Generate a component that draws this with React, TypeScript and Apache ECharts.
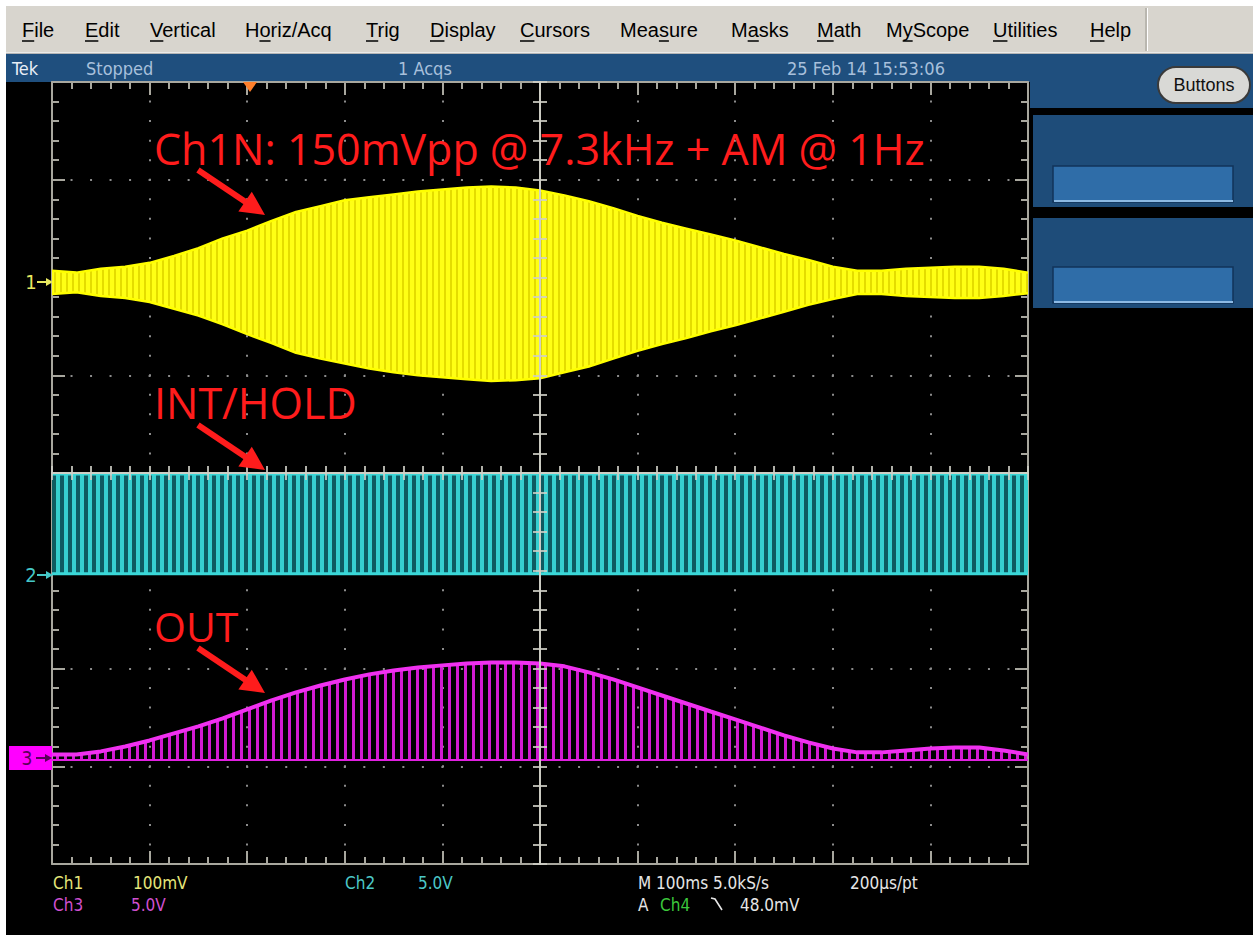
import React, { useEffect, useRef } from "react";
import * as echarts from "echarts";

// ---------- data ----------
// time relative to screen centre (ms), 100 ms/div
const timeMs = [-500, -475, -450, -425, -400, -375, -350, -325, -300, -275, -250, -225, -200, -175, -150, -125, -100, -75, -50, -25, 0, 25, 50, 75, 100, 125, 150, 175, 200, 225, 250, 275, 300, 325, 350, 375, 400, 425, 450, 475, 500];
// Ch1 (100 mV/div) envelope, mV relative to its ground marker
const ch1UpperMv = [12, 10, 14, 16, 20, 27, 35, 45, 53, 63, 72, 78, 84, 87, 90, 93, 95, 97, 98, 97, 94, 89, 83, 76, 68, 61, 55, 49, 43, 36, 29, 23, 16, 12, 12, 14, 15, 16, 16, 14, 10];
const ch1LowerMv = [-12, -10, -14, -16, -20, -27, -34, -43, -53, -62, -72, -78, -83, -88, -92, -95, -97, -99, -101, -100, -98, -92, -86, -78, -70, -63, -57, -50, -44, -37, -30, -23, -17, -12, -12, -14, -15, -16, -16, -14, -11];
// Ch2 (5 V/div) INT/HOLD logic levels
const ch2TimeMs = [-500, 500];
const ch2LowV = [0, 0];
const ch2HighV = [5.1, 5.1];
// Ch3 (5 V/div) OUT envelope top, V
const ch3TopV = [0.2, 0.2, 0.36, 0.61, 0.92, 1.28, 1.64, 2.05, 2.51, 2.97, 3.38, 3.73, 4.04, 4.3, 4.5, 4.65, 4.76, 4.86, 4.91, 4.91, 4.86, 4.71, 4.4, 4.04, 3.63, 3.22, 2.81, 2.4, 2.0, 1.59, 1.18, 0.82, 0.51, 0.31, 0.31, 0.41, 0.51, 0.56, 0.56, 0.41, 0.2];
const ch3BaseV = -0.08;
// channel positions (div) and scales
const ch1PosDiv = 1.95;
const ch2PosDiv = -1.03;
const ch3PosDiv = -2.92;
const ch1MvPerDiv = 100;
const ch2VPerDiv = 5;
const ch3VPerDiv = 5;

const menuItems = ["File", "Edit", "Vertical", "Horiz/Acq", "Trig", "Display", "Cursors", "Measure", "Masks", "Math", "MyScope", "Utilities", "Help"];
const menuUnderline = [0, 0, 0, 1, 0, 0, 0, 3, 1, 0, 1, 0, 0];
const menuX = [22, 85, 150, 245, 366, 430, 520, 620, 731, 817, 886, 993, 1090];

function stripePattern(period: number, stripe: number, bg: string | null, fg: string) {
  const c = document.createElement("canvas");
  c.width = period;
  c.height = 4;
  const g = c.getContext("2d")!;
  if (bg) {
    g.fillStyle = bg;
    g.fillRect(0, 0, period, 4);
  }
  g.fillStyle = fg;
  g.fillRect(0, 0, stripe, 4);
  return { image: c, repeat: "repeat", imageWidth: period, imageHeight: 4 } as any;
}

function arrow(x1: number, y1: number, x2: number, y2: number, color: string, w: number, hl: number, hw: number) {
  const dx = x2 - x1, dy = y2 - y1;
  const len = Math.hypot(dx, dy);
  const ux = dx / len, uy = dy / len;
  const bx = x2 - ux * hl, by = y2 - uy * hl;
  const px = -uy * hw, py = ux * hw;
  return [
    { type: "line", z: 100, shape: { x1, y1, x2: bx + ux * 2, y2: by + uy * 2 }, style: { stroke: color, lineWidth: w } },
    { type: "polygon", z: 100, shape: { points: [[x2, y2], [bx + px, by + py], [bx - px, by - py]] }, style: { fill: color } },
  ];
}

function txt(x: number, y: number, text: string, fill: string, size: number, family: string, align = "left", weight = "normal") {
  return {
    type: "text",
    z: 100,
    x,
    y,
    style: { text, fill, fontSize: size, fontFamily: family, fontWeight: weight, align, verticalAlign: "middle", textAlign: align, textVerticalAlign: "middle" },
  };
}

export default function App() {
  const ref = useRef<HTMLDivElement>(null);
  useEffect(() => {
    document.body.style.margin = "0";
    const chart = echarts.init(ref.current!, null, { renderer: "svg" });

    const gridGray = "#a8a79e";
    const dotGray = "#8c8c8c";
    const centerGray = "#cfcfc6";
    const cond = "'DejaVu Sans Condensed', 'Liberation Sans Narrow', sans-serif";
    const menuFont = "'Liberation Sans', Arial, sans-serif";
    const annFont = "'Open Sans', 'Noto Sans', sans-serif";

    const borderAxis = (pos: string, split: boolean, dash: number[]) => ({
      type: "value",
      position: pos,
      axisLine: { show: true, onZero: false, lineStyle: { color: gridGray, width: 2 } },
      axisTick: { show: true, inside: true, length: 13, lineStyle: { color: gridGray, width: 2 } },
      minorTick: { show: true, splitNumber: 5, length: 7, lineStyle: { color: gridGray, width: 2 } },
      axisLabel: { show: false },
      splitLine: { show: split, lineStyle: { color: dotGray, width: 2, type: dash, dashOffset: 1 } },
    });
    const centerAxis = (pos: string, inside: boolean) => ({
      type: "value",
      position: pos,
      z: 5,
      axisLine: { show: true, onZero: true, onZeroAxisIndex: 0, lineStyle: { color: centerGray, width: 2, opacity: 0.85 } },
      axisTick: { show: true, inside, length: 7, lineStyle: { color: centerGray, width: 2, opacity: 0.85 } },
      minorTick: { show: true, splitNumber: 5, length: 7, lineStyle: { color: centerGray, width: 2, opacity: 0.85 } },
      axisLabel: { show: false },
      splitLine: { show: false },
    });
    const xRange = { min: -500, max: 500, interval: 100 };
    const yRange = { min: -4, max: 4, interval: 1 };

    const yellowPat = stripePattern(6, 2, "#ffff14", "#e4dc00");
    const cyanPat = stripePattern(8, 4, "#0e5a61", "#36cfd0");
    const magentaPat = stripePattern(8, 3, null, "#d21ad2");

    const line = { type: "line", symbol: "none", silent: true, xAxisIndex: 0, yAxisIndex: 0, animation: false, z: 3 };

    const ch1Lo = timeMs.map((t, i) => ch1PosDiv + ch1LowerMv[i] / ch1MvPerDiv);
    const ch1Hi = timeMs.map((t, i) => ch1PosDiv + ch1UpperMv[i] / ch1MvPerDiv);
    const ch2Lo = ch2TimeMs.map((t, i) => ch2PosDiv + ch2LowV[i] / ch2VPerDiv);
    const ch2Hi = ch2TimeMs.map((t, i) => ch2PosDiv + ch2HighV[i] / ch2VPerDiv);
    const ch3Lo = timeMs.map(() => ch3PosDiv + ch3BaseV / ch3VPerDiv);
    const ch3Hi = timeMs.map((t, i) => ch3PosDiv + ch3TopV[i] / ch3VPerDiv);

    const band = (name: string, xs: number[], lo: number[], hi: number[], fill: any) => ({
      type: "custom",
      name,
      xAxisIndex: 0,
      yAxisIndex: 0,
      silent: true,
      clip: true,
      z: 2,
      data: [[xs[0], lo[0]]],
      renderItem: (_p: any, api: any) => {
        const pts: number[][] = [];
        for (let i = 0; i < xs.length; i++) pts.push(api.coord([xs[i], hi[i]]));
        for (let i = xs.length - 1; i >= 0; i--) pts.push(api.coord([xs[i], lo[i]]));
        return { type: "polygon", shape: { points: pts }, style: { fill } };
      },
    });
    const pairs = (xs: number[], ys: number[]) => xs.map((x, i) => [x, ys[i]]);

    const series: any[] = [
      band("Ch1 band", timeMs, ch1Lo, ch1Hi, yellowPat),
      { ...line, name: "Ch1 max", data: pairs(timeMs, ch1Hi), lineStyle: { color: "#ffff00", width: 2.5 } },
      { ...line, name: "Ch1 min", data: pairs(timeMs, ch1Lo), lineStyle: { color: "#ffff00", width: 2.5 } },
      band("Ch2 band", ch2TimeMs, ch2Lo, ch2Hi, cyanPat),
      { ...line, name: "Ch2 high", data: pairs(ch2TimeMs, ch2Hi), lineStyle: { color: "#3ad8d8", width: 3 } },
      { ...line, name: "Ch2 low", data: pairs(ch2TimeMs, ch2Lo), lineStyle: { color: "#3ad8d8", width: 3 } },
      band("Ch3 band", timeMs, ch3Lo, ch3Hi, magentaPat),
      { ...line, name: "Ch3 base", data: pairs(timeMs, ch3Lo), lineStyle: { color: "#e020e0", width: 2 } },
      { ...line, name: "Ch3 top", data: pairs(timeMs, ch3Hi), lineStyle: { color: "#f030f0", width: 4 } },
    ];

    // menu underline measurement
    const mctx = document.createElement("canvas").getContext("2d")!;
    mctx.font = "20px 'Liberation Sans'";
    const menuEls: any[] = [];
    menuItems.forEach((m, i) => {
      menuEls.push(txt(menuX[i], 30, m, "#000", 20, menuFont));
      const k = menuUnderline[i];
      const pre = mctx.measureText(m.slice(0, k)).width;
      const w = mctx.measureText(m[k]).width;
      menuEls.push({ type: "line", z: 100, shape: { x1: menuX[i] + pre, y1: 41, x2: menuX[i] + pre + w, y2: 41 }, style: { stroke: "#000", lineWidth: 1.5 } });
    });

    const graphic: any[] = [
      // page frame
      { type: "rect", z: -10, shape: { x: 0, y: 0, width: 1253, height: 6 }, style: { fill: "#ffffff" } },
      { type: "rect", z: -10, shape: { x: 0, y: 0, width: 6, height: 937 }, style: { fill: "#ffffff" } },
      { type: "rect", z: -10, shape: { x: 0, y: 935, width: 1253, height: 2 }, style: { fill: "#ffffff" } },
      // menu bar
      { type: "rect", z: -10, shape: { x: 6, y: 6, width: 1247, height: 47 }, style: { fill: "#d8d5ce" } },
      { type: "line", z: -9, shape: { x1: 6, y1: 53, x2: 1253, y2: 53 }, style: { stroke: "#f2f2f2", lineWidth: 1.5 } },
      { type: "line", z: -9, shape: { x1: 1146, y1: 8, x2: 1146, y2: 51 }, style: { stroke: "#9a9890", lineWidth: 1 } },
      { type: "line", z: -9, shape: { x1: 1147.5, y1: 8, x2: 1147.5, y2: 51 }, style: { stroke: "#ffffff", lineWidth: 1 } },
      // status bar
      { type: "rect", z: -10, shape: { x: 6, y: 54, width: 1247, height: 28 }, style: { fill: "#1f4f7e" } },
      // right panel
      { type: "rect", z: -10, shape: { x: 1030, y: 54, width: 223, height: 54 }, style: { fill: "#1f4f7e" } },
      { type: "rect", z: -10, shape: { x: 1033, y: 115, width: 220, height: 92 }, style: { fill: "#1e4c79" } },
      { type: "rect", z: -10, shape: { x: 1033, y: 218, width: 220, height: 90 }, style: { fill: "#1e4c79" } },
      { type: "rect", z: -9, shape: { x: 1053, y: 166, width: 180, height: 36 }, style: { fill: "#2f6da8", stroke: "#12335a", lineWidth: 1.5 } },
      { type: "line", z: -8, shape: { x1: 1054, y1: 201, x2: 1233, y2: 201 }, style: { stroke: "#8dbae4", lineWidth: 2 } },
      { type: "rect", z: -9, shape: { x: 1053, y: 267, width: 180, height: 36 }, style: { fill: "#2f6da8", stroke: "#12335a", lineWidth: 1.5 } },
      { type: "line", z: -8, shape: { x1: 1054, y1: 302, x2: 1233, y2: 302 }, style: { stroke: "#8dbae4", lineWidth: 2 } },
      { type: "rect", z: 90, shape: { x: 1158, y: 67, width: 92, height: 36, r: 18 }, style: { fill: "#d9d9d6", stroke: "#3a3a3a", lineWidth: 2 } },
      txt(1204, 85, "Buttons", "#111", 18, menuFont, "center"),
      // status texts
      txt(12, 68, "Tek", "#e8eef6", 18, cond),
      txt(86, 68, "Stopped", "#a8c0dc", 18, cond),
      txt(398, 68, "1 Acqs", "#a8c0dc", 18, cond),
      txt(787, 68, "25 Feb 14 15:53:06", "#a8c0dc", 18, cond),
      // trigger position marker
      { type: "polygon", z: 100, shape: { points: [[243, 82], [257, 82], [250, 92]] }, style: { fill: "#ff7f2a" } },
      // channel markers
      txt(31, 282, "1", "#e8e860", 20, cond, "center"),
      ...arrow(37, 282, 53, 282, "#e8e860", 2, 7, 4),
      txt(31, 575, "2", "#45c8c8", 20, cond, "center"),
      ...arrow(37, 575, 53, 575, "#45c8c8", 2, 7, 4),
      { type: "rect", z: 99, shape: { x: 9, y: 746, width: 43, height: 24 }, style: { fill: "#ff00ff" } },
      txt(27, 758, "3", "#5a005a", 19, cond, "center"),
      ...arrow(36, 758, 52, 758, "#5a005a", 2, 7, 4),
      // annotations
      txt(154, 148, "Ch1N: 150mVpp @ 7.3kHz + AM @ 1Hz", "#ff1c1c", 43, annFont),
      ...arrow(198, 170, 265, 215, "#ff1c1c", 6, 24, 12),
      txt(154, 402, "INT/HOLD", "#ff1c1c", 43, annFont),
      ...arrow(198, 425, 265, 470, "#ff1c1c", 6, 24, 12),
      txt(154, 626, "OUT", "#ff1c1c", 41, annFont),
      ...arrow(198, 648, 265, 693, "#ff1c1c", 6, 24, 12),
      // bottom readouts
      txt(53, 883, "Ch1", "#e6e67a", 17, cond),
      txt(133, 883, "100mV", "#e6e67a", 17, cond),
      txt(345, 883, "Ch2", "#4cc8c8", 17, cond),
      txt(418, 883, "5.0V", "#4cc8c8", 17, cond),
      txt(638, 883, "M 100ms 5.0kS/s", "#e6e6e6", 17, cond),
      txt(850, 883, "200µs/pt", "#e6e6e6", 17, cond),
      txt(53, 905, "Ch3", "#d050d0", 17, cond),
      txt(131, 905, "5.0V", "#d050d0", 17, cond),
      txt(638, 905, "A", "#e6e6e6", 17, cond),
      txt(660, 905, "Ch4", "#3cc83c", 17, cond),
      { type: "polyline", z: 100, shape: { points: [[711, 898], [715, 899], [722, 910]] }, style: { stroke: "#e6e6e6", lineWidth: 1.6, fill: "none" } },
      txt(740, 905, "48.0mV", "#e6e6e6", 17, cond),
      ...menuEls,
    ];

    const option: any = {
      animation: false,
      backgroundColor: "#000000",
      grid: { left: 52, top: 82, width: 976, height: 782, containLabel: false },
      xAxis: [
        { ...borderAxis("bottom", true, [2, 17.55]), ...xRange },
        { ...borderAxis("top", false, [2, 17.55]), ...xRange },
        { ...centerAxis("bottom", true), ...xRange },
        { ...centerAxis("bottom", false), ...xRange },
      ],
      yAxis: [
        { ...borderAxis("left", true, [2, 17.52]), ...yRange },
        { ...borderAxis("right", false, [2, 17.52]), ...yRange },
        { ...centerAxis("left", true), ...yRange },
        { ...centerAxis("left", false), ...yRange },
      ],
      series,
      graphic,
    };
    chart.setOption(option);
    return () => chart.dispose();
  }, []);
  return <div ref={ref} style={{ width: 1253, height: 937 }} />;
}
